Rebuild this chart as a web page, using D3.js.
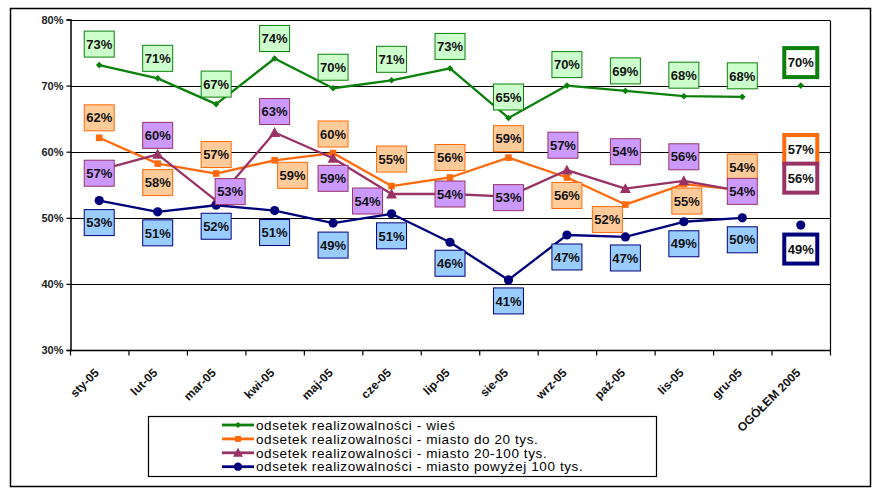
<!DOCTYPE html>
<html>
<head>
<meta charset="utf-8">
<script src="https://cdn.jsdelivr.net/npm/d3@7"></script>
<style>
  html, body { margin: 0; padding: 0; background: #fff; }
  svg { display: block; font-family: "Liberation Sans", Arial, sans-serif; }
</style>
</head>
<body>
<svg id="chart" width="879" height="494"></svg>
<script>
// ---- data ----
const categories = ["sty-05","lut-05","mar-05","kwi-05","maj-05","cze-05","lip-05","sie-05","wrz-05","paź-05","lis-05","gru-05","OGÓŁEM 2005"];
const wies      = [73.1, 71.1, 67.2, 74.1, 69.6, 70.8, 72.6, 65.1, 70.0, 69.2, 68.4, 68.3, 70.0];
const miastoDo20 = [62.1, 58.2, 56.7, 58.7, 59.8, 54.8, 56.1, 59.1, 56.1, 52.0, 55.1, 54.2, 57.0];
const miasto20_100 = [57.2, 59.6, 52.6, 62.9, 59.0, 53.6, 53.6, 53.2, 57.2, 54.4, 55.6, 54.0, 56.0];
const miasto100 = [52.6, 50.9, 51.9, 51.1, 49.2, 50.6, 46.3, 40.6, 47.4, 47.1, 49.4, 50.0, 48.9];
const yTicks = [30, 40, 50, 60, 70, 80];
const seriesNames = [
  "odsetek realizowalności - wieś",
  "odsetek realizowalności - miasto do 20 tys.",
  "odsetek realizowalności - miasto 20-100 tys.",
  "odsetek realizowalności - miasto powyżej 100 tys."
];

// ---- label placement (layout only) ----
const labelDx = [
  [0,0,0,0,0,0,0,0,0,0,0,0,0],
  [0,0,0,18,0,0,0,0,0,-18,3,0,0],
  [0,0,14,0,0,-24,0,0,-4,0,0,0,0],
  [0,0,0,0,0,0,0,0,0,0,0,0,0]
];
const labelDy = [
  [-21,-20,-20,-20,-21,-21,-22,-21,-21,-20,-21,-21,-23],
  [-20,19,-19,15,-19,-27,-20,-19,18,15,17,-23,-22],
  [3,-19,-9,-21,20,7,0,1,-25,-37,-24,0,0],
  [22,21,21,22,22,22,21,21,22,21,22,22,24]
];

const styles = [
  {line:"#0b800b", fill:"#ccffcc", stroke:"#0b800b", marker:"diamond"},
  {line:"#ff6a0a", fill:"#ffcc99", stroke:"#ff6a0a", marker:"square"},
  {line:"#993366", fill:"#cc99ff", stroke:"#993366", marker:"triangle"},
  {line:"#00007a", fill:"#99ccff", stroke:"#00007a", marker:"circle"}
];
const allSeries = [wies, miastoDo20, miasto20_100, miasto100];

const svg = d3.select("#chart");
const W = 879, H = 494;
const plot = {l: 70, r: 830, t: 19.5, b: 350};

svg.append("rect").attr("x",0).attr("y",0).attr("width",W).attr("height",H).attr("fill","#fff");
svg.append("rect").attr("x",10.5).attr("y",8.5).attr("width",860).attr("height",478)
  .attr("fill","none").attr("stroke","#000").attr("stroke-width",1.5);

const x = d3.scaleBand().domain(categories).range([plot.l, plot.r]).padding(0);
const cx = c => x(c) + x.bandwidth()/2;
const y = d3.scaleLinear().domain([30, 80]).range([plot.b, plot.t]);

// gridlines
svg.append("g").selectAll("line").data(yTicks.filter(t => t > 30)).join("line")
  .attr("x1", plot.l).attr("x2", plot.r)
  .attr("y1", d => Math.round(y(d)) + 0.5).attr("y2", d => Math.round(y(d)) + 0.5)
  .attr("stroke", "#000").attr("stroke-width", 1.2);
// right border
svg.append("line").attr("x1", plot.r + 0.5).attr("x2", plot.r + 0.5)
  .attr("y1", Math.round(y(80)) + 0.5).attr("y2", plot.b).attr("stroke", "#000").attr("stroke-width",1.2);

// y axis
const yAxis = d3.axisLeft(y).tickValues(yTicks).tickSize(4).tickFormat(d => d + "%");
const gy = svg.append("g").attr("transform", `translate(${plot.l + 0.5},0)`).call(yAxis);
gy.select(".domain").attr("stroke", "#000").attr("stroke-width", 1.5);
gy.selectAll(".tick line").attr("stroke", "#000").attr("stroke-width", 1.2);
gy.selectAll(".tick text").attr("font-size", 11).attr("font-weight", "bold").attr("fill", "#222")
  .attr("font-family", "Liberation Sans, Arial, sans-serif").attr("x", -7);

// x axis
const gx = svg.append("g").attr("transform", `translate(0,${plot.b + 0.5})`);
gx.append("line").attr("x1", plot.l).attr("x2", plot.r + 1).attr("stroke", "#000").attr("stroke-width", 1.5);
const bounds = categories.map(c => x(c)).concat([plot.r]);
gx.selectAll("line.tk").data(bounds).join("line").attr("class","tk")
  .attr("x1", d => d + 0.5).attr("x2", d => d + 0.5).attr("y1", 0).attr("y2", 5)
  .attr("stroke", "#000").attr("stroke-width", 1.2);
gx.selectAll("text").data(categories).join("text")
  .attr("transform", d => `translate(${cx(d) - 5.5},${17}) rotate(-45)`)
  .attr("text-anchor", "end").attr("dy", "0.71em")
  .attr("font-size", 12).attr("font-weight", "bold").attr("fill", "#111")
  .text(d => d);

// markers
function drawMarker(g, type, color, px, py, scale) {
  scale = scale || 1;
  if (type === "diamond") {
    const s = 3.3 * scale;
    g.append("path").attr("d", `M${px},${py-s}L${px+s},${py}L${px},${py+s}L${px-s},${py}Z`).attr("fill", color);
  } else if (type === "square") {
    const s = 3.3 * scale;
    g.append("rect").attr("x", px - s).attr("y", py - s).attr("width", 2*s).attr("height", 2*s).attr("fill", color);
  } else if (type === "triangle") {
    const s = 5.5 * scale;
    g.append("path").attr("d", `M${px},${py-s}L${px+s},${py+s*0.8}L${px-s},${py+s*0.8}Z`).attr("fill", color);
  } else {
    g.append("circle").attr("cx", px).attr("cy", py).attr("r", 4.6 * scale).attr("fill", color);
  }
}

const nMonths = 12;
const lineGen = d3.line().x((d, i) => cx(categories[i])).y(d => y(d));
const gLines = svg.append("g");
allSeries.forEach((vals, si) => {
  const st = styles[si];
  gLines.append("path").datum(vals.slice(0, nMonths)).attr("d", lineGen)
    .attr("fill", "none").attr("stroke", st.line).attr("stroke-width", 2.3).attr("stroke-linejoin", "round");
  vals.forEach((v, i) => drawMarker(gLines, st.marker, st.line, cx(categories[i]), y(v)));
});

// labels
const gLabels = svg.append("g");
const order = [0, 1, 3, 2];
order.forEach(si => {
  const vals = allSeries[si];
  const st = styles[si];
  vals.forEach((v, i) => {
    const px = cx(categories[i]) + labelDx[si][i];
    const py = y(v) + labelDy[si][i];
    const isTotal = i === categories.length - 1;
    const bw = isTotal ? 33 : 30, bh = isTotal ? 29 : 26;
    gLabels.append("rect").attr("x", px - bw/2).attr("y", py - bh/2).attr("width", bw).attr("height", bh)
      .attr("fill", isTotal ? "#fff" : st.fill).attr("stroke", st.stroke).attr("stroke-width", isTotal ? 4 : 1);
    gLabels.append("text").attr("x", px).attr("y", py).attr("dy", "0.36em")
      .attr("text-anchor", "middle").attr("font-size", 13).attr("font-weight", "bold").attr("fill", "#111")
      .text(Math.round(v) + "%");
  });
});

// legend
const lg = svg.append("g");
lg.append("rect").attr("x", 148.5).attr("y", 416.5).attr("width", 508).attr("height", 60)
  .attr("fill", "#fff").attr("stroke", "#000").attr("stroke-width", 1.2);
seriesNames.forEach((name, si) => {
  const ly = 425 + si * 13.9;
  lg.append("line").attr("x1", 222).attr("x2", 254).attr("y1", ly).attr("y2", ly)
    .attr("stroke", styles[si].line).attr("stroke-width", 2.8);
  drawMarker(lg, styles[si].marker, styles[si].line, 238, ly, 0.9);
  lg.append("text").attr("x", 256).attr("y", ly).attr("dy", "0.35em")
    .attr("font-size", 13.5).attr("letter-spacing", 0.6).attr("fill", "#000").text(name);
});
</script>
</body>
</html>
